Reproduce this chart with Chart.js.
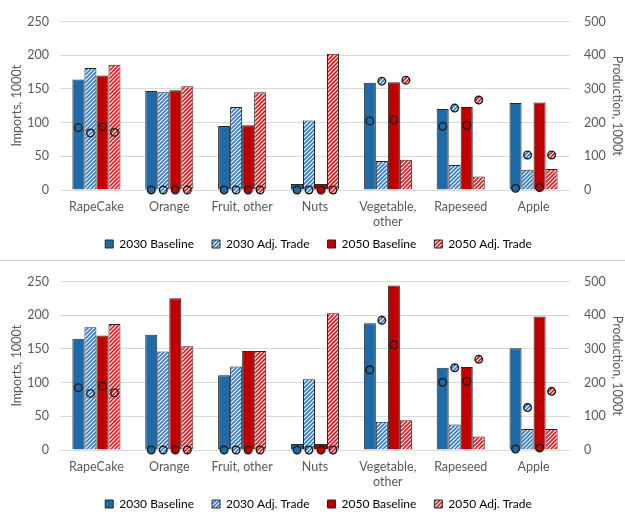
<!DOCTYPE html>
<html>
<head>
<meta charset="utf-8">
<script src="https://cdn.jsdelivr.net/npm/chart.js@4.4.1/dist/chart.umd.min.js"></script>
<style>
  html, body { margin: 0; padding: 0; background: #fff; overflow: hidden; }
  #wrap { position: relative; width: 625px; height: 512px; }
  .panel { position: absolute; left: 0; width: 625px; height: 260px; }
  #sep { position: absolute; left: 0; top: 260px; width: 625px; height: 1px; background: #d9d9d9; }
</style>
</head>
<body>
<div id="wrap">
  <div class="panel" style="top:0"><canvas id="top"></canvas></div>
  <div id="sep"></div>
  <div class="panel" style="top:260px"><canvas id="bottom"></canvas></div>
</div>
<script>
// Categories and series labels
const categories = ['RapeCake', 'Orange', 'Fruit, other', 'Nuts', ['Vegetable,', 'other'], 'Rapeseed', 'Apple'];
const seriesNames = ['2030 Baseline', '2030 Adj. Trade', '2050 Baseline', '2050 Adj. Trade'];
const importTicks = [0, 50, 100, 150, 200, 250];
const productionTicks = [0, 100, 200, 300, 400, 500];

// Upper panel: imports (bars, 1000t)
const topImp2030Base  = [164, 147, 95, 9, 159, 120, 129];
const topImp2030Adj   = [181, 145, 123, 103, 43, 37, 30];
const topImp2050Base  = [170, 148, 96, 9, 160, 123, 130];
const topImp2050Adj   = [186, 154, 145, 202, 45, 20, 31];
// Upper panel: production (circles, 1000t)
const topProd2030Base = [185, 0, 0, 0, 205, 189, 5];
const topProd2030Adj  = [169, 0, 0, 0, 323, 243, 104];
const topProd2050Base = [188, 0, 0, 0, 208, 192, 7];
const topProd2050Adj  = [171, 0, 0, 0, 326, 267, 104];

// Lower panel: imports (bars, 1000t)
const botImp2030Base  = [165, 171, 111, 9, 188, 122, 151];
const botImp2030Adj   = [182, 146, 124, 105, 42, 38, 31];
const botImp2050Base  = [170, 225, 147, 9, 244, 123, 198];
const botImp2050Adj   = [187, 154, 147, 203, 44, 20, 31];
// Lower panel: production (circles, 1000t)
const botProd2030Base = [185, 0, 0, 0, 238, 201, 3];
const botProd2030Adj  = [168, 0, 0, 0, 385, 244, 126];
const botProd2050Base = [189, 0, 0, 0, 312, 204, 6];
const botProd2050Adj  = [170, 0, 0, 0, null, 269, 174];

const BLUE = '#1f6ba8';
const RED = '#c00000';
const EDGE = '#262626';
const LEGEND_PAD = 18;
const LEGEND_FONT = 12;

Chart.defaults.font.family = 'Lato, "Liberation Sans", sans-serif';
Chart.defaults.font.size = 12.5;
Chart.defaults.color = '#595959';

// Diagonal hatch fill
function hatch(color) {
  const c = document.createElement('canvas');
  c.width = 4; c.height = 4;
  const g = c.getContext('2d');
  g.fillStyle = '#ffffff';
  g.fillRect(0, 0, 4, 4);
  g.strokeStyle = color;
  g.lineWidth = 1.6;
  g.beginPath();
  g.moveTo(0, 4); g.lineTo(4, 0);
  g.moveTo(-1, 1); g.lineTo(1, -1);
  g.moveTo(3, 5); g.lineTo(5, 3);
  g.stroke();
  return g.createPattern(c, 'repeat');
}

function fills() {
  return [BLUE, hatch('#2e7cc2'), RED, hatch('#cc1f1f')];
}

// Production circles drawn over each bar, on the right-hand scale
const productionMarkers = {
  id: 'productionMarkers',
  afterDatasetsDraw(chart) {
    const prod = chart.options.plugins.productionMarkers.values;
    const fs = chart.options.plugins.productionMarkers.fills;
    const y1 = chart.scales.y1;
    const ctx = chart.ctx;
    ctx.save();
    prod.forEach((vals, i) => {
      const meta = chart.getDatasetMeta(i);
      vals.forEach((v, j) => {
        if (v === null || v === undefined) return;
        const bar = meta.data[j];
        const y = y1.getPixelForValue(v);
        ctx.beginPath();
        ctx.arc(bar.x, y, 3.8, 0, Math.PI * 2);
        ctx.fillStyle = fs[i];
        ctx.fill();
        ctx.lineWidth = 1.4;
        ctx.strokeStyle = '#1b1b1b';
        ctx.stroke();
      });
    });
    ctx.restore();
  }
};

// Place the legend row: a little right of centre, text centred at y = 244
const legendShift = {
  id: 'legendShift',
  afterLayout(chart) {
    const lg = chart.legend;
    if (!lg) return;
    lg.left += 6; lg.right += 6;
    const dy = 244 - (lg.top + LEGEND_PAD + LEGEND_FONT / 2);
    lg.top += dy; lg.bottom += dy;
  }
};

function build(id, imports, production) {
  const f = fills();
  new Chart(document.getElementById(id), {
    type: 'bar',
    data: {
      labels: categories,
      datasets: imports.map((d, i) => ({
        label: seriesNames[i],
        data: d,
        backgroundColor: f[i],
        borderColor: EDGE,
        borderWidth: 1,
        borderSkipped: 'bottom',
        yAxisID: 'y',
        categoryPercentage: 0.66,
        barPercentage: 1.0
      }))
    },
    options: {
      responsive: false,
      animation: false,
      layout: { padding: { top: 19, left: 0, right: 0, bottom: -7 } },
      plugins: {
        tooltip: { enabled: false },
        legend: {
          position: 'bottom',
          labels: {
            boxWidth: 8,
            boxHeight: 8,
            padding: LEGEND_PAD,
            color: '#404040',
            font: { size: LEGEND_FONT },
            generateLabels(chart) {
              return chart.data.datasets.map((ds, i) => ({
                text: ds.label,
                fillStyle: ds.backgroundColor,
                strokeStyle: EDGE,
                lineWidth: 1,
                datasetIndex: i,
                hidden: false
              }));
            }
          }
        },
        productionMarkers: { values: production, fills: f }
      },
      scales: {
        x: {
          grid: { display: false, drawTicks: false },
          border: { display: false },
          ticks: { padding: 9, color: '#595959', maxRotation: 0, autoSkip: false },
          afterFit(s) { s.height = 37; }
        },
        y: {
          position: 'left',
          min: importTicks[0],
          max: importTicks[importTicks.length - 1],
          afterBuildTicks(s) { s.ticks = importTicks.map(v => ({ value: v })); },
          grid: { color: '#d9d9d9', drawTicks: false, lineWidth: 1 },
          border: { display: false },
          ticks: { padding: 11, color: '#595959' },
          title: { display: true, text: 'Imports, 1000t', color: '#595959', padding: { top: 9, bottom: 0 } },
          afterFit(s) { s.width = 60; }
        },
        y1: {
          position: 'right',
          min: productionTicks[0],
          max: productionTicks[productionTicks.length - 1],
          afterBuildTicks(s) { s.ticks = productionTicks.map(v => ({ value: v })); },
          grid: { display: false, drawTicks: false },
          border: { display: false },
          ticks: { padding: 14, color: '#595959' },
          title: { display: true, text: 'Production, 1000t', color: '#595959', padding: { top: 0, bottom: 0 } },
          afterFit(s) { s.width = 55; }
        }
      }
    },
    plugins: [productionMarkers, legendShift]
  });
}

function sizeCanvas(id) {
  const c = document.getElementById(id);
  c.width = 625; c.height = 260;
  c.style.width = '625px'; c.style.height = '260px';
}
sizeCanvas('top');
sizeCanvas('bottom');

build('top',
  [topImp2030Base, topImp2030Adj, topImp2050Base, topImp2050Adj],
  [topProd2030Base, topProd2030Adj, topProd2050Base, topProd2050Adj]);
build('bottom',
  [botImp2030Base, botImp2030Adj, botImp2050Base, botImp2050Adj],
  [botProd2030Base, botProd2030Adj, botProd2050Base, botProd2050Adj]);
</script>
</body>
</html>
